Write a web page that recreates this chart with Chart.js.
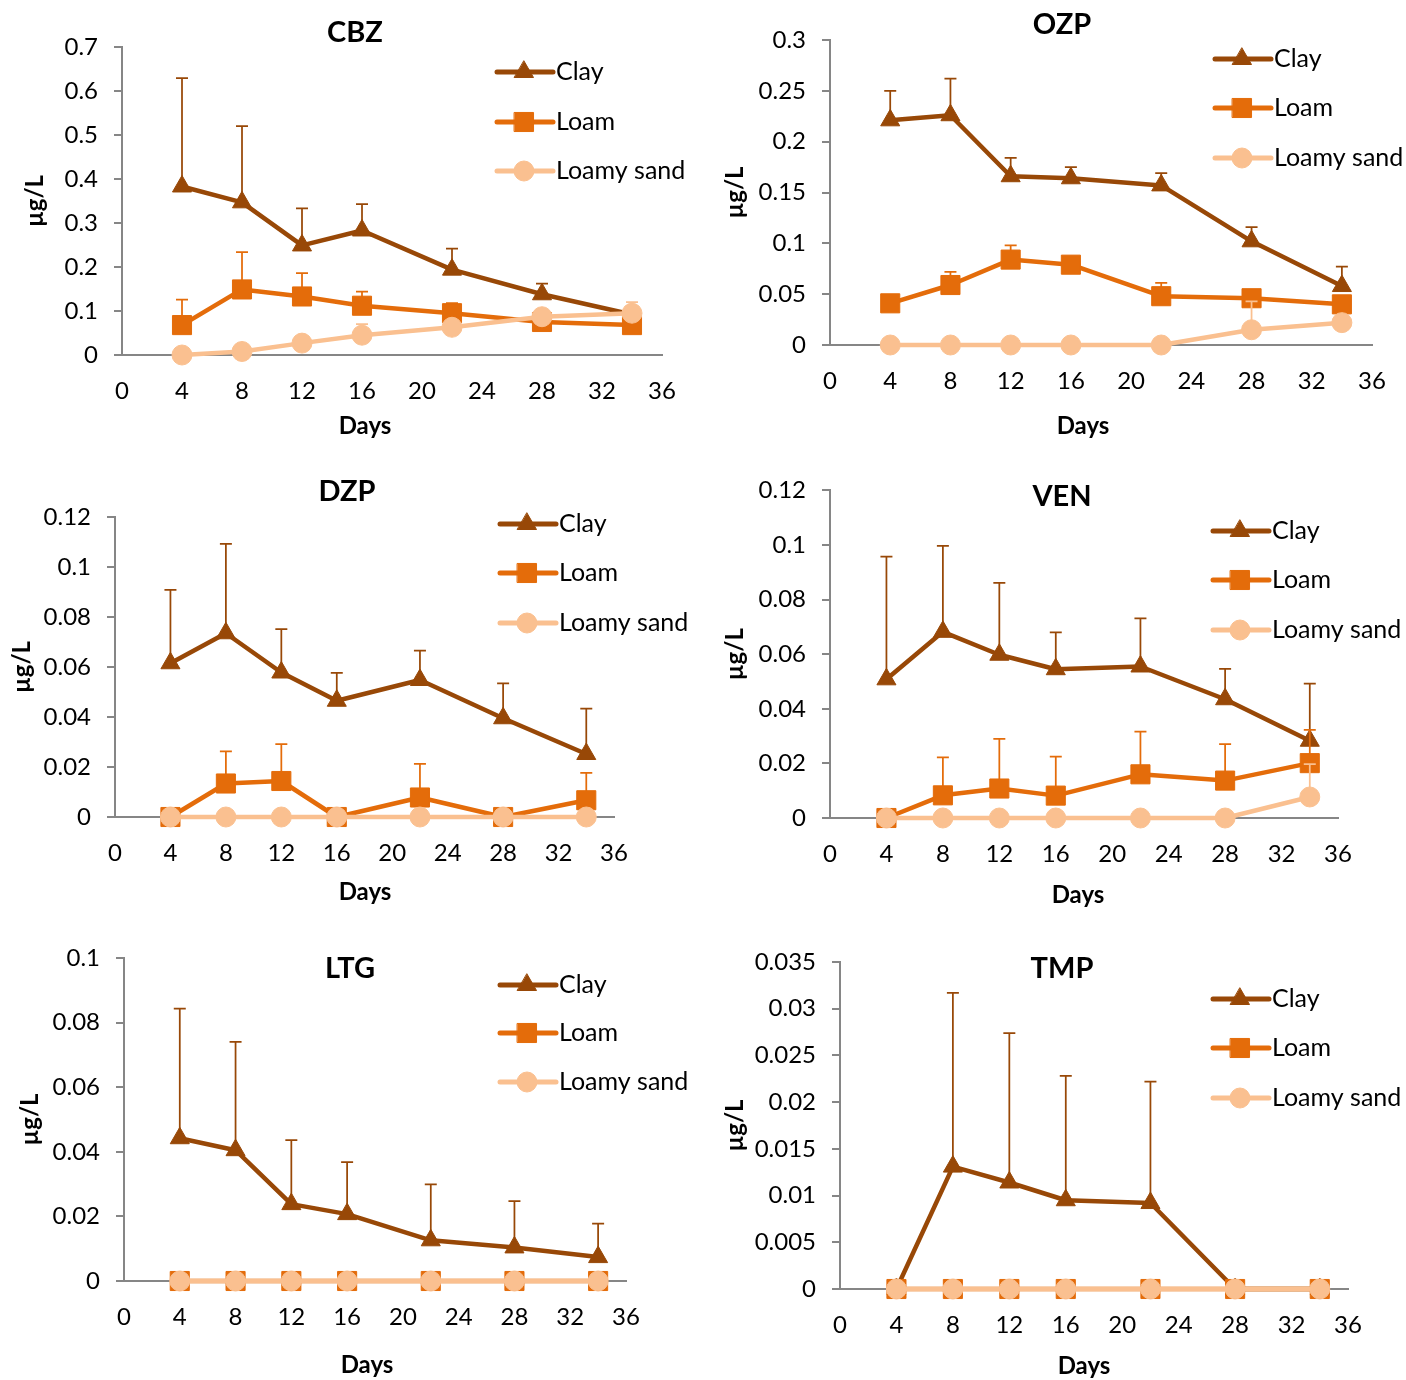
<!DOCTYPE html>
<html>
<head>
<meta charset="utf-8">
<title>Concentrations in soil leachate</title>
<script src="https://cdn.jsdelivr.net/npm/chart.js@4.4.1/dist/chart.umd.min.js"></script>
<style>
  html, body { margin: 0; padding: 0; background: #fff; }
  #page { position: relative; width: 1406px; height: 1380px; }
  #page canvas { position: absolute; }
</style>
</head>
<body>
<div id="page"></div>
<script>
// sampling days and soils
const DAYS = [4, 8, 12, 16, 22, 28, 34];
const SOILS = ['Clay', 'Loam', 'Loamy sand'];
const ZEROS = [0, 0, 0, 0, 0, 0, 0];

// CBZ
const CBZ_CLAY = [0.383, 0.347, 0.249, 0.283, 0.194, 0.138, 0.092];
const CBZ_CLAY_SD = [0.246, 0.173, 0.084, 0.060, 0.048, 0.024, 0.018];
const CBZ_LOAM = [0.068, 0.149, 0.133, 0.112, 0.095, 0.075, 0.068];
const CBZ_LOAM_SD = [0.058, 0.085, 0.053, 0.032, 0.023, 0.010, 0.012];
const CBZ_SAND = [0.000, 0.008, 0.027, 0.045, 0.063, 0.087, 0.095];
const CBZ_SAND_SD = [0, 0.002, 0.003, 0.025, 0.004, 0.006, 0.025];

// OZP
const OZP_CLAY = [0.221, 0.226, 0.166, 0.164, 0.157, 0.102, 0.058];
const OZP_CLAY_SD = [0.029, 0.036, 0.018, 0.011, 0.012, 0.014, 0.019];
const OZP_LOAM = [0.041, 0.059, 0.084, 0.079, 0.048, 0.046, 0.040];
const OZP_LOAM_SD = [0.002, 0.013, 0.014, 0.004, 0.013, 0.004, 0.004];
const OZP_SAND = [0, 0, 0, 0, 0, 0.015, 0.022];
const OZP_SAND_SD = [0, 0, 0, 0, 0, 0.028, 0.005];

// DZP
const DZP_CLAY = [0.0615, 0.0735, 0.0578, 0.0465, 0.0548, 0.0395, 0.0252];
const DZP_CLAY_SD = [0.0294, 0.0358, 0.0174, 0.0112, 0.0118, 0.0140, 0.0182];
const DZP_LOAM = [0, 0.0134, 0.0144, 0, 0.0078, 0, 0.0067];
const DZP_LOAM_SD = [0, 0.0129, 0.0148, 0, 0.0135, 0, 0.0110];

// VEN
const VEN_CLAY = [0.0508, 0.0682, 0.0598, 0.0545, 0.0555, 0.0435, 0.0283];
const VEN_CLAY_SD = [0.0449, 0.0315, 0.0263, 0.0135, 0.0176, 0.0111, 0.0209];
const VEN_LOAM = [0, 0.0083, 0.0108, 0.0082, 0.0160, 0.0137, 0.0201];
const VEN_LOAM_SD = [0, 0.0139, 0.0182, 0.0143, 0.0156, 0.0134, 0.0122];
const VEN_SAND = [0, 0, 0, 0, 0, 0, 0.0077];
const VEN_SAND_SD = [0, 0, 0, 0, 0, 0, 0.0120];

// LTG
const LTG_CLAY = [0.0442, 0.0405, 0.0238, 0.0207, 0.0126, 0.0104, 0.0074];
const LTG_CLAY_SD = [0.0401, 0.0335, 0.0198, 0.0161, 0.0173, 0.0143, 0.0104];

// TMP
const TMP_CLAY = [0, 0.0131, 0.0114, 0.0095, 0.0092, 0, 0];
const TMP_CLAY_SD = [0, 0.0186, 0.0160, 0.0133, 0.0130, 0, 0];

// y axis ranges
const Y_MAX = { CBZ: 0.7, OZP: 0.3, DZP: 0.12, VEN: 0.12, LTG: 0.1, TMP: 0.035 };
const Y_STEP = { CBZ: 0.1, OZP: 0.05, DZP: 0.02, VEN: 0.02, LTG: 0.02, TMP: 0.005 };

const COLORS = ['#984807', '#E46C0A', '#FAC090'];
const STYLES = ['triangle', 'rect', 'circle'];
const RADII = [11, 13.5, 10];
const FONT = 'Lato';

// panel layout (absolute page pixels)
const panels = [
    { name: 'CBZ', ox: 0, oy: 0, plot: [122, 47, 662, 355], title: [355, 33], ylab: 35, days: [365, 426], legend: [497, 72, 122, 171],
      series: [[CBZ_CLAY, CBZ_CLAY_SD], [CBZ_LOAM, CBZ_LOAM_SD], [CBZ_SAND, CBZ_SAND_SD]] },
    { name: 'OZP', ox: 703, oy: 0, plot: [830, 40, 1372, 345], title: [1062, 25], ylab: 735, days: [1083, 426], legend: [1215, 59, 108, 158],
      series: [[OZP_CLAY, OZP_CLAY_SD], [OZP_LOAM, OZP_LOAM_SD], [OZP_SAND, OZP_SAND_SD]] },
    { name: 'DZP', ox: 0, oy: 460, plot: [115, 517, 614, 817], title: [347, 492], ylab: 22, days: [365, 892], legend: [500, 524, 573, 623],
      series: [[DZP_CLAY, DZP_CLAY_SD], [DZP_LOAM, DZP_LOAM_SD], [ZEROS, ZEROS]] },
    { name: 'VEN', ox: 703, oy: 460, plot: [830, 486, 1338, 818], title: [1062, 497], ylab: 735, days: [1078, 895], legend: [1213, 531, 580, 630],
      series: [[VEN_CLAY, VEN_CLAY_SD], [VEN_LOAM, VEN_LOAM_SD], [VEN_SAND, VEN_SAND_SD]] },
    { name: 'LTG', ox: 0, oy: 920, plot: [124, 958, 626, 1281], title: [350, 969], ylab: 30, days: [367, 1365], legend: [500, 985, 1033, 1082],
      series: [[LTG_CLAY, LTG_CLAY_SD], [ZEROS, ZEROS], [ZEROS, ZEROS]] },
    { name: 'TMP', ox: 703, oy: 920, plot: [840, 962, 1348, 1289], title: [1062, 969], ylab: 735, days: [1084, 1366], legend: [1213, 999, 1048, 1098],
      series: [[TMP_CLAY, TMP_CLAY_SD], [ZEROS, ZEROS], [ZEROS, ZEROS]] }
];

const PANEL_W = 703, PANEL_H = 460, X_AXIS_H = 60;

// upper error bars, drawn just under each series
const errorBars = {
    id: 'errorBars',
    beforeDatasetDraw(chart, args) {
        const ds = chart.data.datasets[args.index];
        if (!ds.errors) return;
        const yScale = chart.scales.y;
        const ctx = chart.ctx;
        ctx.save();
        ctx.strokeStyle = ds.borderColor;
        ctx.lineWidth = 1.75;
        args.meta.data.forEach((pt, i) => {
            const err = ds.errors[i];
            if (!err) return;
            const top = yScale.getPixelForValue(ds.data[i].y + err);
            ctx.beginPath();
            ctx.moveTo(pt.x, pt.y);
            ctx.lineTo(pt.x, top);
            ctx.moveTo(pt.x - 6, top);
            ctx.lineTo(pt.x + 6, top);
            ctx.stroke();
        });
        ctx.restore();
    }
};

// title, axis titles and Excel-like legend
const decorations = {
    id: 'decorations',
    afterDraw(chart, args, opts) {
        const p = opts.panel;
        const ctx = chart.ctx;
        const ox = p.ox, oy = p.oy;
        ctx.save();
        ctx.fillStyle = '#000';
        ctx.textBaseline = 'middle';
        ctx.textAlign = 'center';
        ctx.font = 'bold 29px ' + FONT;
        ctx.fillText(p.name, p.title[0] - ox, p.title[1] - oy);

        ctx.font = 'bold 24px ' + FONT;
        ctx.fillText('Days', p.days[0] - ox, p.days[1] - oy);

        const area = chart.chartArea;
        ctx.save();
        ctx.translate(p.ylab - ox, (area.top + area.bottom) / 2);
        ctx.rotate(-Math.PI / 2);
        ctx.fillText('\u00b5g/L', 0, 0);
        ctx.restore();

        const lx = p.legend[0] - ox;
        SOILS.forEach((soil, i) => {
            const y = p.legend[i + 1] - oy;
            ctx.strokeStyle = COLORS[i];
            ctx.fillStyle = COLORS[i];
            ctx.lineWidth = 5;
            ctx.lineCap = 'round';
            ctx.beginPath();
            ctx.moveTo(lx, y);
            ctx.lineTo(lx + 56, y);
            ctx.stroke();
            ctx.lineWidth = 1;
            Chart.helpers.drawPoint(ctx, { pointStyle: STYLES[i], radius: RADII[i], rotation: 0, borderWidth: 1 }, lx + 27, y);
            ctx.fillStyle = '#000';
            ctx.textAlign = 'left';
            ctx.font = '25px ' + FONT;
            ctx.fillText(soil, lx + 59, y);
        });
        ctx.restore();
    }
};

function fmtTick(v) {
    return String(parseFloat(v.toFixed(4)));
}

function buildPanel(p) {
    const canvas = document.createElement('canvas');
    canvas.width = PANEL_W;
    canvas.height = PANEL_H;
    canvas.style.left = p.ox + 'px';
    canvas.style.top = p.oy + 'px';
    document.getElementById('page').appendChild(canvas);

    const [left, top, right, bottom] = p.plot;
    const datasets = SOILS.map((soil, i) => ({
        label: soil,
        data: DAYS.map((d, k) => ({ x: d, y: p.series[i][0][k] })),
        errors: p.series[i][1],
        borderColor: COLORS[i],
        backgroundColor: COLORS[i],
        borderWidth: 4.5,
        borderCapStyle: 'round',
        borderJoinStyle: 'round',
        pointStyle: STYLES[i],
        pointRadius: RADII[i],
        pointBorderWidth: 1,
        pointBackgroundColor: COLORS[i],
        pointBorderColor: COLORS[i],
        order: 3 - i,
        clip: false
    }));

    const axisFont = { family: FONT, size: 24 };
    new Chart(canvas.getContext('2d'), {
        type: 'line',
        data: { datasets },
        plugins: [errorBars, decorations],
        options: {
            responsive: false,
            animation: false,
            events: [],
            layout: {
                padding: { left: 0, top: top - p.oy, right: p.ox + PANEL_W - right, bottom: p.oy + PANEL_H - bottom - X_AXIS_H }
            },
            scales: {
                x: {
                    type: 'linear',
                    min: 0,
                    max: 36,
                    ticks: { stepSize: 4, padding: 14, color: '#000', font: axisFont, maxRotation: 0 },
                    grid: { display: false },
                    border: { display: true, color: '#868686', width: 2 },
                    afterFit: s => { s.height = X_AXIS_H; }
                },
                y: {
                    min: 0,
                    max: Y_MAX[p.name],
                    ticks: { stepSize: Y_STEP[p.name], padding: 16, color: '#000', font: axisFont, callback: fmtTick },
                    grid: { drawOnChartArea: false, drawTicks: true, tickLength: 8, color: '#868686', lineWidth: 2 },
                    border: { display: true, color: '#868686', width: 2 },
                    afterFit: s => { s.width = left - p.ox; }
                }
            },
            plugins: {
                legend: { display: false },
                tooltip: { enabled: false },
                decorations: { panel: p }
            }
        }
    });
}

document.fonts.load('24px Lato').then(() => document.fonts.load('bold 24px Lato')).finally(() => {
    panels.forEach(buildPanel);
});
</script>
</body>
</html>
